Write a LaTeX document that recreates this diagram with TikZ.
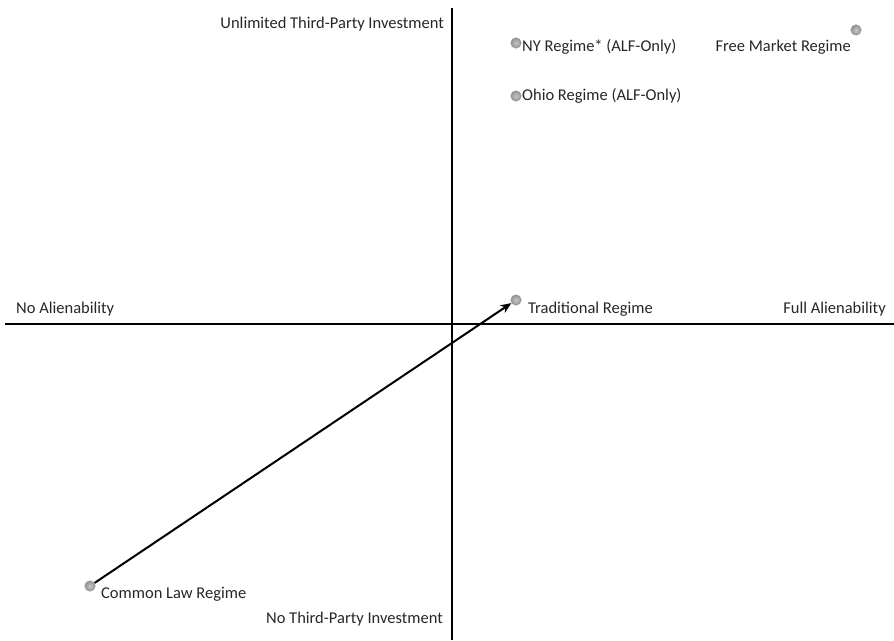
\documentclass[tikz,border=0pt]{standalone}
\usepackage{fontspec}
\setmainfont{Carlito}
\usetikzlibrary{arrows.meta}
\begin{document}
\begin{tikzpicture}[x=1pt,y=-1pt,
  lbl/.style={font=\fontsize{16.5}{18}\selectfont, inner sep=0pt, text=black!85},
  dot/.style={circle, inner sep=0pt, minimum size=10.5pt, draw=gray!80, line width=0.5pt, inner color=gray!45, outer color=gray!85, shading=radial},
  axis/.style={line width=2.2pt}]
\useasboundingbox (0,0) rectangle (894,640);
% axes
\coordinate (xl) at (5,324);
\coordinate (xr) at (894,324);
\coordinate (yt) at (452,8);
\coordinate (yb) at (452,640);
\draw[axis] (xl) -- (xr);
\draw[axis] (yt) -- (yb);
% dots
\node[dot] (ny) at (516,43) {};
\node[dot] (ohio) at (516,96) {};
\node[dot] (free) at (856,30) {};
\node[dot] (trad) at (516,300) {};
\node[dot] (common) at (90,586) {};
% labels
\node[lbl, anchor=east] (l1) at (444,24) {Unlimited Third-Party Investment};
\node[lbl, anchor=east] (l2) at (443,619) {No Third-Party Investment};
\node[lbl, anchor=west] (l3) at (16,309) {No Alienability};
\node[lbl, anchor=east] (l4) at (886,309) {Full Alienability};
\node[lbl, anchor=west] (l5) at (522,47) {NY Regime* (ALF-Only)};
\node[lbl, anchor=east] (l6) at (851,47) {Free Market Regime};
\node[lbl, anchor=west] (l7) at (522,96) {Ohio Regime (ALF-Only)};
\node[lbl, anchor=west] (l8) at (528,309) {Traditional Regime};
\node[lbl, anchor=west] (l9) at (101,594) {Common Law Regime};
% arrow
\draw[line width=2pt, -{Stealth[length=11pt,width=9pt]}] (common) -- (trad);
\end{tikzpicture}
\end{document}
